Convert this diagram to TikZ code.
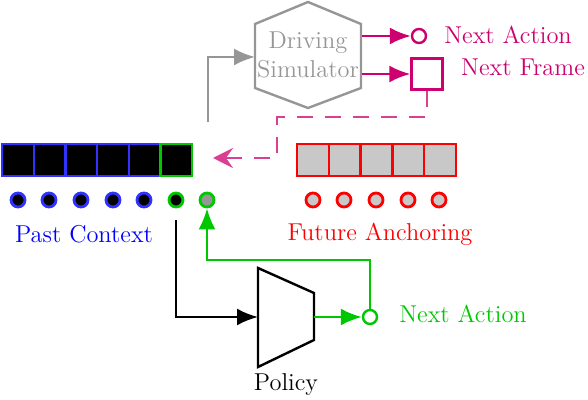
\documentclass[tikz,border=0pt]{standalone}
\usetikzlibrary{arrows.meta,calc}
\definecolor{mag}{RGB}{204,0,110}
\definecolor{grn}{RGB}{0,200,0}
\definecolor{blu}{RGB}{50,50,255}
\definecolor{gry}{RGB}{150,150,150}
\definecolor{lgry}{RGB}{200,200,200}
\begin{document}
\begin{tikzpicture}[x=0.5pt,y=-0.5pt, line width=1.2pt,
  font=\fontsize{12.2}{14.5}\selectfont,
  frame/.style={draw, minimum size=15.85pt, inner sep=0pt, line width=1.2pt},
  dot/.style={circle, draw, minimum size=7pt, inner sep=0pt, line width=1.4pt},
  ring/.style={circle, draw, minimum size=7pt, inner sep=0pt, line width=1.2pt, fill=white},
  arr/.style={-{Latex[length=10.5pt,width=8.5pt]}},
  lbl/.style={inner sep=0pt}
]
\useasboundingbox (0,0) rectangle (588,400);

% Driving simulator
\node[lbl, text=gry, align=center, minimum width=53pt, minimum height=53pt] (sim) at (308,55) {Driving\\Simulator};
\draw[gry] (308,2) -- (361,24) -- (361,88) -- (308,108) -- (255,88) -- (255,24) -- cycle;

\node[ring, draw=mag] (na) at (419,36) {};
\node[draw=mag, minimum size=15.5pt, inner sep=0pt] (nf) at (427,74) {};
\node[lbl, text=mag] (nal) at (508,35) {Next Action};
\node[lbl, text=mag] (nfl) at (523,67) {Next Frame};
\draw[mag, arr] (sim.east |- na.west) -- (na.west);
\draw[mag, arr] (sim.east |- nf.west) -- (nf.west);

% gray feedback into simulator
\coordinate (gs) at (208,122);
\draw[gry, arr] (gs) |- (255,57);

% past frames
\foreach \i in {1,...,5}{
  \node[frame, draw=blu, fill=black] (p\i) at ({2+15.85+31.7*(\i-1)},160) {};
}
\node[frame, draw=grn, fill=black] (p6) at ({2+15.85+31.7*5},160) {};

% future frames
\foreach \i in {1,...,5}{
  \node[frame, draw=red, fill=lgry] (f\i) at ({297+15.9+31.8*(\i-1)},160) {};
}

% past dots
\foreach \i/\x in {1/18,2/49,3/81,4/113,5/144}{
  \node[dot, draw=blu, fill=black] (d\i) at (\x,200) {};
}
\node[dot, draw=grn, fill=black] (d6) at (176,200) {};
\node[dot, draw=grn, fill=gry] (d7) at (207,200) {};

% future dots
\foreach \i/\x in {1/313,2/344,3/376,4/408,5/439}{
  \node[dot, draw=red, fill=lgry] (e\i) at (\x,200) {};
}

\node[lbl, text=blue] (pc) at (84,234) {Past Context};
\node[lbl, text=red] (fa) at (380,234) {Future Anchoring};

% dashed next frame feedback
\coordinate (c1) at (277,117);
\coordinate (dtip) at (213,158);
\draw[mag!75, line width=1.2pt, dash pattern=on 8pt off 6pt, -{Stealth[length=10pt,width=10pt,inset=3.5pt]}]
  (nf.south) |- (c1) |- (dtip);

% policy
\node[lbl, minimum width=28pt, minimum height=49.5pt] (pol) at (286,317.5) {};
\draw (258,268) -- (314,293) -- (314,340) -- (258,367) -- cycle;
\node[lbl] (poll) at (286,385) {Policy};

\node[ring, draw=grn] (na2) at (370,317) {};
\node[lbl, text=grn] (na2l) at (463,314) {Next Action};

\draw[arr, shorten <=6pt] (d6.south) |- (258,317);
\draw[grn, arr] (314,317) -- (na2.west);
\coordinate (g1) at (207,260);
\draw[grn, arr] (na2.north) |- (g1) -- (d7.south);
\end{tikzpicture}
\end{document}
